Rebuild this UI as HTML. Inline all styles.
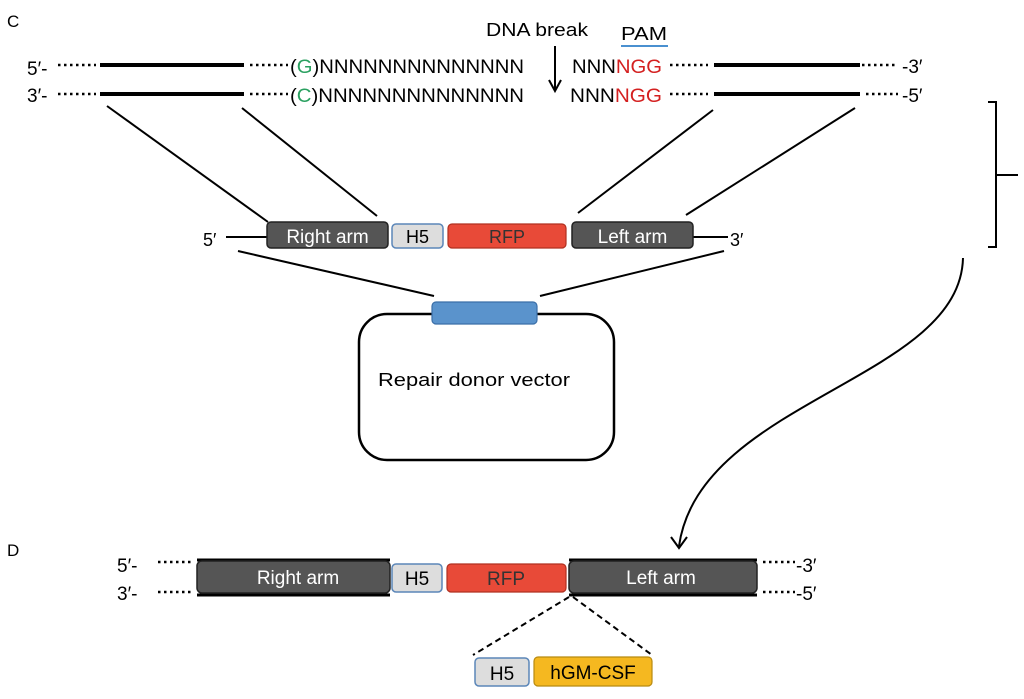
<!DOCTYPE html>
<html><head><style>
html,body{margin:0;padding:0;background:#fff;}
svg{display:block;}
text{font-family:"Liberation Sans","DejaVu Sans",sans-serif;}
</style></head><body>
<svg width="1024" height="699" viewBox="0 0 1024 699" xmlns="http://www.w3.org/2000/svg">
<text x="7" y="27" font-size="17">C</text>
<text x="486" y="36" font-size="18" textLength="102" lengthAdjust="spacingAndGlyphs">DNA break</text>
<text x="621" y="40" font-size="18" textLength="46" lengthAdjust="spacingAndGlyphs">PAM</text>
<line x1="621" y1="46" x2="668" y2="46" stroke="#4a90d0" stroke-width="2"/>
<line x1="555" y1="46" x2="555" y2="90" stroke="#000" stroke-width="2"/>
<path d="M549,80 L555,91 L561,80" fill="none" stroke="#000" stroke-width="2"/>
<g font-size="19">
<text x="27" y="75">5′-</text>
<text x="27" y="102">3′-</text>
<text x="290" y="73" textLength="234" lengthAdjust="spacingAndGlyphs">(<tspan fill="#2aa060">G</tspan>)NNNNNNNNNNNNNN</text>
<text x="290" y="102" textLength="234" lengthAdjust="spacingAndGlyphs">(<tspan fill="#2aa060">C</tspan>)NNNNNNNNNNNNNN</text>
<text x="572" y="73" textLength="90" lengthAdjust="spacingAndGlyphs">NNN<tspan fill="#d42020">NGG</tspan></text>
<text x="570" y="102" textLength="92" lengthAdjust="spacingAndGlyphs">NNN<tspan fill="#d42020">NGG</tspan></text>
<text x="902" y="73">-3′</text>
<text x="902" y="102">-5′</text>
</g>
<g stroke="#000" stroke-width="2.5" stroke-dasharray="2.5,3.5">
<line x1="58" y1="65" x2="96" y2="65"/><line x1="58" y1="94" x2="96" y2="94"/>
<line x1="250" y1="65" x2="288" y2="65"/><line x1="250" y1="94" x2="288" y2="94"/>
<line x1="670" y1="65" x2="708" y2="65"/><line x1="670" y1="94" x2="708" y2="94"/>
<line x1="862" y1="65" x2="898" y2="65"/><line x1="866" y1="94" x2="898" y2="94"/>
</g>
<g stroke="#000" stroke-width="4">
<line x1="100" y1="65" x2="244" y2="65"/><line x1="100" y1="94" x2="244" y2="94"/>
<line x1="714" y1="65" x2="860" y2="65"/><line x1="714" y1="94" x2="860" y2="94"/>
</g>
<g stroke="#000" stroke-width="2">
<line x1="107" y1="106" x2="268" y2="222"/>
<line x1="242" y1="108" x2="377" y2="216"/>
<line x1="713" y1="110" x2="578" y2="213"/>
<line x1="855" y1="108" x2="686" y2="215"/>
<path d="M988,102 H996 V247 H988 M996,175 H1018" fill="none"/>
<line x1="226" y1="237" x2="267" y2="237"/>
<line x1="693" y1="237" x2="728" y2="237"/>
<line x1="238" y1="251" x2="434" y2="296"/>
<line x1="724" y1="251" x2="540" y2="296"/>
</g>
<text x="203" y="246" font-size="18">5′</text>
<text x="730" y="246" font-size="18">3′</text>
<rect x="267" y="222" width="121" height="26" rx="4" fill="#555" stroke="#222" stroke-width="1.5"/>
<text x="327.5" y="243" font-size="19" fill="#fff" text-anchor="middle">Right arm</text>
<rect x="392" y="224" width="51" height="24" rx="4" fill="#ddd" stroke="#5b86b8" stroke-width="1.5"/>
<text x="417.5" y="243" font-size="18" text-anchor="middle">H5</text>
<rect x="448" y="224" width="118" height="24" rx="4" fill="#e84a38" stroke="#b03020" stroke-width="1.2"/>
<text x="507" y="243" font-size="18" fill="#333" text-anchor="middle">RFP</text>
<rect x="572" y="222" width="121" height="26" rx="4" fill="#555" stroke="#222" stroke-width="1.5"/>
<text x="632.5" y="243" font-size="19" fill="#fff" text-anchor="middle">Left arm</text>
<rect x="359" y="314" width="255" height="146" rx="28" fill="#fff" stroke="#000" stroke-width="2.5"/>
<rect x="432" y="302" width="105" height="22" rx="4" fill="#5a93cc" stroke="#3b6fa8" stroke-width="1.2"/>
<text x="378" y="386" font-size="18" textLength="192" lengthAdjust="spacingAndGlyphs">Repair donor vector</text>
<path d="M963,258 C960,380 700,400 679,546" fill="none" stroke="#000" stroke-width="2"/>
<path d="M671,537 L679,548 L687,537" fill="none" stroke="#000" stroke-width="2"/>
<text x="7" y="556" font-size="17">D</text>
<g font-size="19">
<text x="117" y="572">5′-</text>
<text x="117" y="600">3′-</text>
<text x="796" y="572">-3′</text>
<text x="796" y="600">-5′</text>
</g>
<g stroke="#000" stroke-width="2.5" stroke-dasharray="2.5,3.5">
<line x1="158" y1="562" x2="193" y2="562"/><line x1="158" y1="592" x2="193" y2="592"/>
<line x1="763" y1="562" x2="795" y2="562"/><line x1="763" y1="592" x2="795" y2="592"/>
</g>
<g stroke="#000" stroke-width="3">
<line x1="197" y1="560" x2="390" y2="560"/><line x1="197" y1="595" x2="390" y2="595"/>
<line x1="569" y1="560" x2="757" y2="560"/><line x1="569" y1="595" x2="757" y2="595"/>
</g>
<rect x="197" y="561" width="193" height="32" rx="5" fill="#555" stroke="#222" stroke-width="1.5"/>
<text x="298" y="584" font-size="19" fill="#fff" text-anchor="middle">Right arm</text>
<rect x="392" y="564" width="50" height="28" rx="4" fill="#ddd" stroke="#5b86b8" stroke-width="1.5"/>
<text x="417" y="585" font-size="19" text-anchor="middle">H5</text>
<rect x="447" y="564" width="119" height="28" rx="4" fill="#e84a38" stroke="#b03020" stroke-width="1.2"/>
<text x="506" y="585" font-size="19" fill="#333" text-anchor="middle">RFP</text>
<rect x="569" y="561" width="188" height="32" rx="5" fill="#555" stroke="#222" stroke-width="1.5"/>
<text x="661" y="584" font-size="19" fill="#fff" text-anchor="middle">Left arm</text>
<g stroke="#000" stroke-width="2" stroke-dasharray="6,4">
<line x1="569" y1="597" x2="473" y2="655"/>
<line x1="573" y1="597" x2="652" y2="655"/>
</g>
<rect x="475" y="658" width="54" height="28" rx="4" fill="#ddd" stroke="#5b86b8" stroke-width="1.5"/>
<text x="502" y="680" font-size="19" text-anchor="middle">H5</text>
<rect x="534" y="657" width="118" height="29" rx="4" fill="#f5b820" stroke="#b88a10" stroke-width="1.2"/>
<text x="593" y="679" font-size="19" text-anchor="middle">hGM-CSF</text>
</svg>
</body></html>
